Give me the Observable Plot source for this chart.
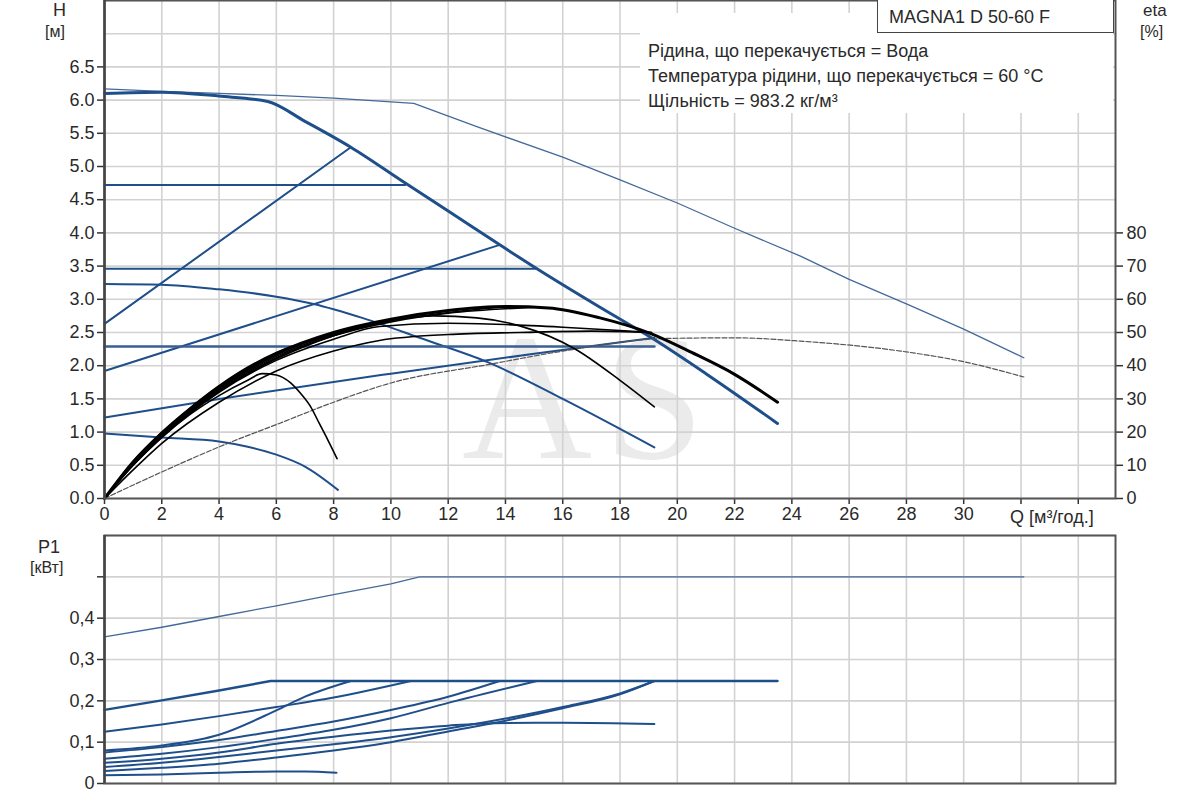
<!DOCTYPE html>
<html>
<head>
<meta charset="utf-8">
<script src="https://cdn.jsdelivr.net/npm/d3@7"></script>
<script src="https://cdn.jsdelivr.net/npm/@observablehq/plot@0.6"></script>
<style>
  body { margin: 0; background: #fff; font-family: "Liberation Sans", Arial, sans-serif; }
  #wrap { position: relative; width: 1200px; height: 800px; overflow: hidden; background: #fff; }
  .lbl { position: absolute; color: #2a2a2a; font-size: 18px; line-height: 1; white-space: nowrap; z-index: 3; }
  #wm { position: absolute; left: 462px; top: 335px; height: 126px; font-family: "Liberation Serif", "DejaVu Serif", serif;
        font-size: 180px; line-height: 0.7; letter-spacing: 12px; color: #ebebeb; z-index: 0; }
  #top, #bot { position: absolute; left: 0; z-index: 1; }
  #info { position: absolute; left: 640px; top: 13px; width: 473px; height: 100px; background: #fff; z-index: 2; }
  #info div { position: absolute; left: 8px; font-size: 18px; color: #2a2a2a; white-space: nowrap; line-height: 1; }
  #model { position: absolute; left: 877px; top: -2px; height: 35px; width: 237px; border: 1.5px solid #444;
           background: #fff; z-index: 3; font-size: 18px; color: #2a2a2a; line-height: 36px; padding-left: 11px; box-sizing: border-box; }
</style>
</head>
<body>
<div id="wrap">
  <div id="wm">AS</div>
  <div id="top" style="top:0"></div>
  <div id="bot" style="top:530px"></div>
  <div id="info">
    <div style="top:29px">Рідина, що перекачується = Вода</div>
    <div style="top:54px">Температура рідини, що перекачується = 60 °C</div>
    <div style="top:79px">Щільність = 983.2 кг/м³</div>
  </div>
  <div id="model">MAGNA1 D 50-60 F</div>
  <div class="lbl" style="left:53px;top:1px">H</div>
  <div class="lbl" style="left:45px;top:24px;font-size:16px">[м]</div>
  <div class="lbl" style="left:1143px;top:2px;font-size:17px">eta</div>
  <div class="lbl" style="left:1140px;top:24px;font-size:16px">[%]</div>
  <div class="lbl" style="left:38px;top:538px">P1</div>
  <div class="lbl" style="left:30px;top:560px;font-size:16px">[кВт]</div>
  <div class="lbl" style="left:1010px;top:508px">Q [м³/год.]</div>
</div>
<script>
// ---------- tick values ----------
const qTicks = [0, 2, 4, 6, 8, 10, 12, 14, 16, 18, 20, 22, 24, 26, 28, 30, 32, 34];
const qLabelMax = 30;
const hGrid = [0, 0.5, 1, 1.5, 2, 2.5, 3, 3.5, 4, 4.5, 5, 5.5, 6, 6.5, 7, 7.5];
const hTicks = [0, 0.5, 1, 1.5, 2, 2.5, 3, 3.5, 4, 4.5, 5, 5.5, 6, 6.5];
const etaTicks = [0, 10, 20, 30, 40, 50, 60, 70, 80];
const p1Grid = [0, 0.1, 0.2, 0.3, 0.4, 0.5, 0.6];
const p1Ticks = [0, 0.1, 0.2, 0.3, 0.4, 0.5];
const p1Labeled = [0, 0.1, 0.2, 0.3, 0.4];

// ---------- H (m) vs Q (m3/h) ----------
const hMax      = [[0,6.17],[2,6.13],[4,6.1],[6,6.07],[8,6.03],[10.8,5.95],[13,5.6],[16,5.14],[18,4.8],[20,4.45],[22,4.07],[24.3,3.65],[26,3.3],[28,2.93],[30,2.55],[32.1,2.12]];
const hConstMax = [[0,6.1],[2,6.12],[4,6.06],[5.7,5.98],[7,5.68],[8.6,5.29],[10.5,4.75],[12,4.33],[13.8,3.82],[15.1,3.46],[17.3,2.88],[19.1,2.42],[21,1.88],[23.5,1.13]];
const hCP1      = [[0,4.72],[10.5,4.72]];
const hCP2      = [[0,3.46],[15.1,3.46]];
const hCP3      = [[0,2.29],[19.2,2.29]];
const hPP1      = [[0,2.63],[8.6,5.29]];
const hPP2      = [[0,1.92],[13.8,3.82]];
const hPP3      = [[0,1.22],[4,1.5],[10,1.88],[15,2.18],[19.2,2.42]];
const hCurve2   = [[0,3.23],[2,3.22],[4,3.15],[6,3.04],[7.3,2.93],[9,2.72],[11,2.42],[13.4,2.05],[16,1.5],[19.2,0.77]];
const hCurve1   = [[0,0.98],[1,0.95],[2,0.92],[4,0.86],[5,0.78],[6,0.66],[7,0.48],[8.15,0.13]];

// ---------- eta (%) vs Q ----------
const etaMax      = [[0,0],[2,8],[4.3,16.6],[6.1,22.6],[8,29],[10,34.8],[13.5,40.5],[16,44.4],[19.6,48.2],[22,48.4],[24.3,47.4],[27.8,44.4],[30,41.2],[32.1,36.6]];
const etaConstMax = [[0,0],[1,11],[2,19.6],[3,27],[4,33.6],[6,43.6],[8,50],[10,54],[12,56.6],[14,57.8],[15.5,57.4],[17.3,54.4],[19.1,49.6],[20.5,44],[22,37.4],[23.5,29]];
const etaCurve2   = [[0,0],[1,10.4],[2,19],[4,32.4],[6,42],[8,49],[10,53.6],[11.5,55],[13,54.4],[14.5,52],[16.4,45.2],[18,35.6],[19.2,27.6]];
const etaCurve1   = [[0,0],[1,10],[2,18.4],[3,25.4],[4,31],[5,35.6],[5.5,37.6],[6,37.2],[6.5,34.8],[6.85,31.6],[7.2,27.6],[7.5,22.6],[7.8,17.6],[8.12,12]];
const etaCP3      = [[0,0],[1,10],[2,18.4],[4,32],[6,41.6],[8,48],[9.6,51.8],[12,52.8],[14,52.4],[16,51.6],[18,50.6],[19.1,50]];
const etaPP3      = [[0,0],[1,8.6],[2,16.6],[4,29],[6,38.4],[8,44.4],[9.6,47.6],[12,49.4],[14.5,50],[17,50.4],[19.1,50]];
const etaPP1      = [[0,0],[1,11.2],[2,20],[3,27.4],[4,34],[6,44],[8,49.4],[8.6,51]];
const etaCP1      = [[0,0],[1,10.8],[2,19.4],[4,33.2],[6,43.2],[8,50],[10.5,54.6]];
const etaPP2      = [[0,0],[1,10.6],[2,19.2],[4,32.8],[6,42.8],[8,49.4],[10,53.6],[12,56],[13.8,57.6]];
const etaCP2      = [[0,0],[1,10.4],[2,18.8],[4,32.4],[6,42.4],[8,49],[10,53.2],[12,55.8],[15.1,57.6]];

// ---------- P1 (kW) vs Q ----------
const p1Max      = [[0,0.355],[2,0.378],[4,0.404],[6,0.43],[8,0.457],[10,0.483],[11,0.5],[32.1,0.5]];
const p1ConstMax = [[0,0.178],[2,0.201],[4,0.225],[5.8,0.248],[23.5,0.248]];
const p1CP1      = [[0,0.125],[2,0.143],[4,0.163],[6,0.185],[8,0.208],[10.7,0.248]];
const p1PP1      = [[0,0.08],[2,0.092],[4,0.118],[6,0.177],[7,0.21],[8.6,0.248]];
const p1PP2      = [[0,0.075],[2,0.088],[4,0.105],[6,0.127],[8,0.15],[10,0.178],[12,0.21],[13.8,0.248]];
const p1CP2      = [[0,0.06],[2,0.072],[4,0.088],[6,0.108],[8,0.13],[10,0.158],[12,0.195],[15.1,0.248]];
const p1Curve2   = [[0,0.05],[2,0.06],[4,0.075],[6,0.096],[8,0.113],[10,0.128],[12,0.14],[13.6,0.146],[16,0.147],[19.2,0.144]];
const p1PP3      = [[0,0.04],[2,0.05],[4,0.064],[6,0.08],[8,0.095],[10,0.112],[12,0.133],[14,0.157],[16,0.185],[18,0.218],[19.2,0.248]];
const p1CP3      = [[0,0.03],[2,0.038],[4,0.048],[6,0.063],[8,0.08],[10,0.1],[12,0.126],[14,0.152],[16,0.182],[18,0.216],[19.2,0.248]];
const p1Curve1   = [[0,0.02],[2,0.022],[4,0.026],[6,0.029],[7,0.029],[8.1,0.026]];

// ---------- styles ----------
const BLUE = "#1f4f8b";
const THIN_BLUE = "#45699a";
const GRID = "#d2d2d2";
const FONT = '"Liberation Sans", Arial, sans-serif';
const rows = a => a.map(([q, v]) => ({q, v}));
const etaToH = e => e / 20;

const xScale = {domain: [0, 35.3], axis: null};
const blueLine = (a, w = 2, c = BLUE, curve = "monotone-x") => Plot.line(rows(a), {x: "q", y: "v", curve, stroke: c, strokeWidth: w});
const etaLine = (a, w = 1.6, c = "#000", dash) => Plot.line(rows(a), {x: "q", y: d => etaToH(d.v), curve: "monotone-x", stroke: c, strokeWidth: w, strokeDasharray: dash});
const pLine = (a, w = 2, c = BLUE) => blueLine(a, w, c, "linear");

const topPlot = Plot.plot({
  width: 1200, height: 530,
  marginLeft: 104, marginRight: 85, marginTop: 0, marginBottom: 32,
  x: xScale,
  y: {domain: [0, 7.5], axis: null},
  style: {background: "transparent", fontSize: "18px", fontFamily: FONT, color: "#2a2a2a"},
  marks: [
    Plot.gridX(qTicks, {stroke: GRID, strokeOpacity: 1, strokeWidth: 1.6}),
    Plot.gridY(hGrid, {stroke: GRID, strokeOpacity: 1, strokeWidth: 1.6}),
    blueLine(hMax, 1.3, THIN_BLUE, "linear"),
    blueLine(hCurve1), blueLine(hCurve2),
    blueLine(hPP1), blueLine(hPP2), blueLine(hPP3),
    blueLine(hCP1), blueLine(hCP2), blueLine(hCP3, 2.6, "#3a5f92"),
    blueLine(hConstMax, 3),
    etaLine(etaMax, 1.2, "#555", "5,2"),
    etaLine(etaCurve1), etaLine(etaCurve2), etaLine(etaCP3), etaLine(etaPP3),
    etaLine(etaPP1), etaLine(etaCP1), etaLine(etaPP2), etaLine(etaCP2),
    etaLine(etaConstMax, 3),
    Plot.axisY(hTicks, {anchor: "left", tickFormat: d => d.toFixed(1), tickSize: 7, tickPadding: 3, stroke: "#333", strokeWidth: 1.5, label: null}),
    Plot.axisY(etaTicks.map(etaToH), {anchor: "right", tickFormat: d => String(Math.round(d * 20)), tickSize: 7, tickPadding: 4, stroke: "#333", strokeWidth: 1.5, label: null}),
    Plot.axisX(qTicks, {anchor: "bottom", tickFormat: d => d <= qLabelMax ? String(d) : "", tickSize: 6, tickPadding: 3, stroke: "#333", strokeWidth: 1.5, label: null}),
    Plot.frame({stroke: "#555", strokeWidth: 2}),
    Plot.ruleX([0], {stroke: "#444", strokeWidth: 2.5})
  ]
});
document.getElementById("top").appendChild(topPlot);

const botPlot = Plot.plot({
  width: 1200, height: 270,
  marginLeft: 104, marginRight: 85, marginTop: 5, marginBottom: 17,
  x: xScale,
  y: {domain: [0, 0.6], axis: null},
  style: {background: "transparent", fontSize: "18px", fontFamily: FONT, color: "#2a2a2a"},
  marks: [
    Plot.gridX(qTicks, {stroke: GRID, strokeOpacity: 1, strokeWidth: 1.6}),
    Plot.gridY(p1Grid, {stroke: GRID, strokeOpacity: 1, strokeWidth: 1.6}),
    pLine(p1Max, 1.3, THIN_BLUE),
    blueLine(p1Curve1), blueLine(p1CP3), blueLine(p1PP3), blueLine(p1Curve2),
    blueLine(p1CP2), blueLine(p1PP2), blueLine(p1PP1), blueLine(p1CP1),
    pLine(p1ConstMax, 2.4),
    Plot.axisY(p1Ticks, {anchor: "left", tickFormat: d => p1Labeled.includes(d) ? (d === 0 ? "0" : d.toFixed(1).replace(".", ",")) : "", tickSize: 7, tickPadding: 3, stroke: "#333", strokeWidth: 1.5, label: null}),
    Plot.frame({stroke: "#555", strokeWidth: 2}),
    Plot.ruleX([0], {stroke: "#444", strokeWidth: 2.5})
  ]
});
document.getElementById("bot").appendChild(botPlot);
</script>
</body>
</html>
